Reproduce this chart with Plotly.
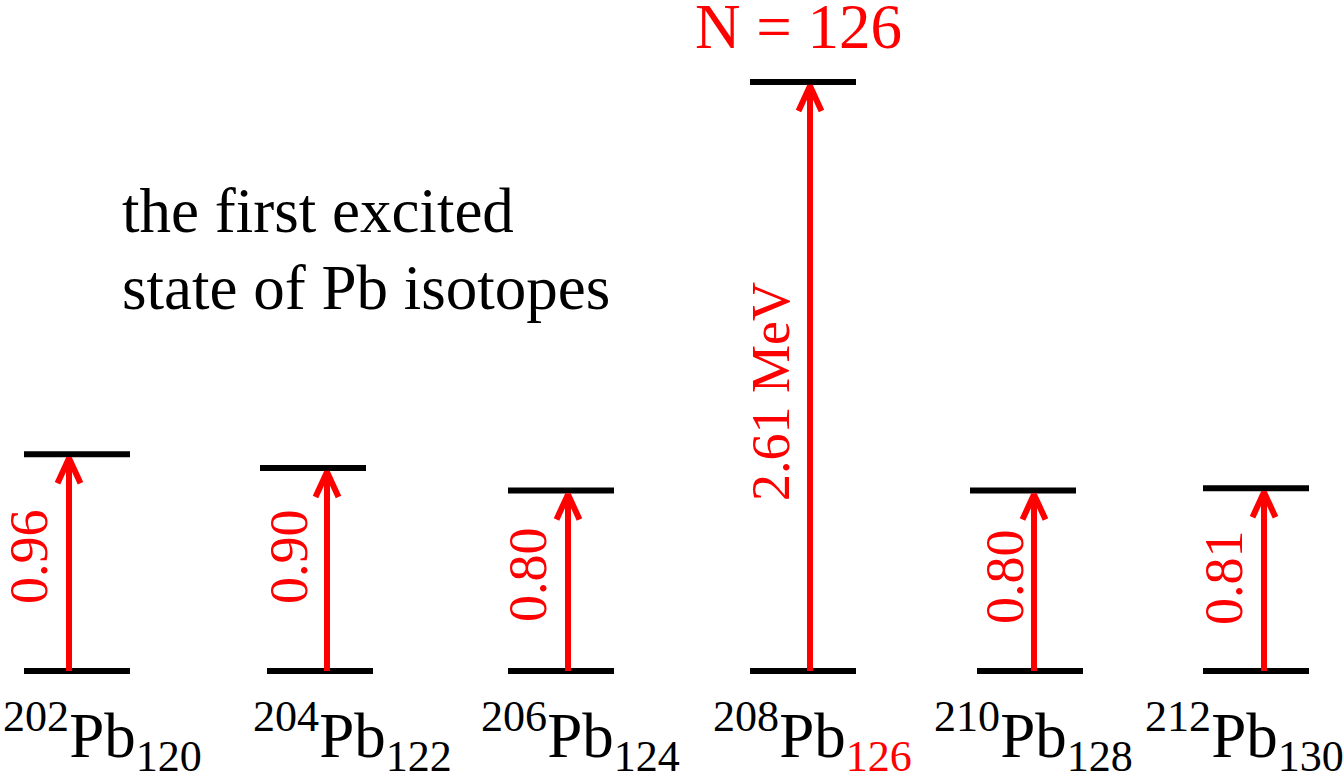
import plotly.graph_objects as go

# ---------------- data ----------------
mass_numbers = [202, 204, 206, 208, 210, 212]
neutron_numbers = [120, 122, 124, 126, 128, 130]
energies_mev = [0.96, 0.90, 0.80, 2.61, 0.80, 0.81]
energy_labels = ["0.96", "0.90", "0.80", "2.61 MeV", "0.80", "0.81"]
magic_n = 126
title_lines = ["the first excited", "state of Pb isotopes"]

# ---------------- layout (pixel-based positions) ----------------
W, H = 1344, 781
GROUND_PX, TOP_PX = 671, 82          # ground level and 2.61 MeV level in pixels
PX_PER_MEV = (GROUND_PX - TOP_PX) / 2.61
Y_MAX = GROUND_PX / PX_PER_MEV
Y_MIN = -(H - GROUND_PX) / PX_PER_MEV


def py(p):
    """pixel row -> MeV axis value"""
    return (GROUND_PX - p) / PX_PER_MEV


level_x0 = [24, 260, 508, 750, 970, 1203]
ground_x0 = [24, 267, 508, 750, 977, 1203]
level_len = 106
arrow_x = [69, 327, 568, 810, 1034, 1264]
elabel_x = [29, 289, 528, 771, 1005, 1224]
elabel_ypx = [557, 557, 575, 392, 577, 578]
iso_x = [102.5, 352.5, 580, 812.5, 1033.5, 1244]
ISO_YPX = 736

RED = "#ff0000"
FONT = "Liberation Serif, Times New Roman, serif"
LEVEL_W = 6
ARROW_W = 6
HEAD_DX = 11.5      # px
HEAD_DY = 25        # px
TIP_INSET = 4       # px

fig = go.Figure()

# levels
for i, e in enumerate(energies_mev):
    fig.add_trace(go.Scatter(
        x=[level_x0[i], level_x0[i] + level_len, None, ground_x0[i], ground_x0[i] + level_len],
        y=[e, e, None, 0, 0],
        mode="lines", line=dict(color="black", width=LEVEL_W),
        hoverinfo="skip", showlegend=False))

# arrows
for i, e in enumerate(energies_mev):
    ax = arrow_x[i]
    tip = e - TIP_INSET / PX_PER_MEV
    wing = tip - HEAD_DY / PX_PER_MEV
    fig.add_trace(go.Scatter(
        x=[ax, ax, None, ax - HEAD_DX, ax, ax + HEAD_DX],
        y=[0, tip, None, wing, tip, wing],
        mode="lines", line=dict(color=RED, width=ARROW_W),
        hoverinfo="skip", showlegend=False))

annotations = []
# energy labels
for i, lab in enumerate(energy_labels):
    annotations.append(dict(
        x=elabel_x[i], y=py(elabel_ypx[i]), xref="x", yref="y",
        text=lab, showarrow=False, textangle=-90,
        xanchor="center", yanchor="middle",
        font=dict(family=FONT, size=54, color=RED)))

# isotope labels
for i, (a, n) in enumerate(zip(mass_numbers, neutron_numbers)):
    sub = f"<span style='color:{RED}'>{n}</span>" if n == magic_n else f"{n}"
    annotations.append(dict(
        x=iso_x[i], y=py(ISO_YPX), xref="x", yref="y",
        text=f"<sup>{a}</sup>Pb<sub>{sub}</sub>", showarrow=False,
        xanchor="center", yanchor="middle",
        font=dict(family=FONT, size=63, color="black")))

# N = 126 label
annotations.append(dict(
    x=798, y=py(26.5), xref="x", yref="y",
    text=f"N = {magic_n}", showarrow=False,
    xanchor="center", yanchor="middle",
    font=dict(family=FONT, size=63, color=RED)))

# description text
for j, (line, ypx) in enumerate(zip(title_lines, [210.5, 287.5])):
    annotations.append(dict(
        x=120, y=py(ypx), xref="x", yref="y",
        text=line, showarrow=False,
        xanchor="left", yanchor="middle",
        font=dict(family=FONT, size=63, color="black")))

fig.update_layout(
    width=W, height=H,
    margin=dict(l=0, r=0, t=0, b=0),
    paper_bgcolor="white", plot_bgcolor="white",
    xaxis=dict(range=[0, W], visible=False, fixedrange=True),
    yaxis=dict(range=[Y_MIN, Y_MAX], visible=False, fixedrange=True),
    annotations=annotations,
    showlegend=False,
)

fig.write_html("out.html", config={"displayModeBar": False})
